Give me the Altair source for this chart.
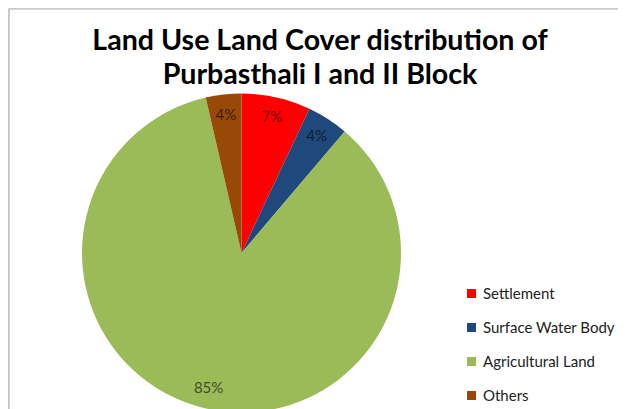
import altair as alt
import pandas as pd

categories = ["Settlement", "Surface Water Body", "Agricultural Land", "Others"]
shares = [7.0, 4.2, 85.2, 3.6]
labels = ["7%", "4%", "85%", "4%"]
colors = ["#ff0000", "#1f497d", "#9bbb59", "#984807"]
order = [1, 2, 3, 4]

df = pd.DataFrame({"category": categories, "share": shares, "label": labels, "order": order})

W, H = 610, 401
CX, CY, R = 233.5, 245, 159.5

base = alt.Chart(df).encode(
    theta=alt.Theta("share:Q", stack=True),
    order=alt.Order("order:Q"),
)

pie = base.mark_arc(radius=R, stroke=None).encode(
    x=alt.value(CX),
    y=alt.value(CY),
    color=alt.Color(
        "category:N",
        scale=alt.Scale(domain=categories, range=colors),
        sort=categories,
        legend=alt.Legend(
            title=None,
            orient="none",
            legendX=456,
            legendY=278,
            symbolType="square",
            symbolSize=81,
            symbolStrokeWidth=0,
            labelFont="Lato",
            labelFontSize=15,
            labelColor="#222222",
            labelOffset=4,
            rowPadding=18,
            labelLimit=300,
        ),
    ),
)

text = base.mark_text(radius=139, font="Lato", fontSize=15, color="black", opacity=0.6).encode(
    x=alt.value(CX),
    y=alt.value(CY),
    text="label:N",
)

frame_df = pd.DataFrame({"k": [0]})
top_line = alt.Chart(frame_df).mark_rule(color="#b4b4b4", strokeWidth=1.2).encode(
    x=alt.value(1), x2=alt.value(W), y=alt.value(1)
)
left_line = alt.Chart(frame_df).mark_rule(color="#b4b4b4", strokeWidth=1.2).encode(
    x=alt.value(1), y=alt.value(1), y2=alt.value(H)
)

chart = alt.layer(top_line, left_line, pie, text).properties(
    width=W,
    height=H,
    autosize=alt.AutoSizeParams(type="none"),
    padding=0,
    title=alt.Title(
        ["Land Use Land Cover distribution of", "Purbasthali I and II Block"],
        font="Lato",
        fontSize=28.6,
        fontWeight="bold",
        color="#000000",
        anchor="start",
        align="center",
        dx=312,
        lineHeight=34,
        baseline="bottom",
        offset=-111,
    ),
).configure_view(stroke=None).configure(background="white")

chart.save("out.html", embed_options={"renderer": "svg", "actions": False})
